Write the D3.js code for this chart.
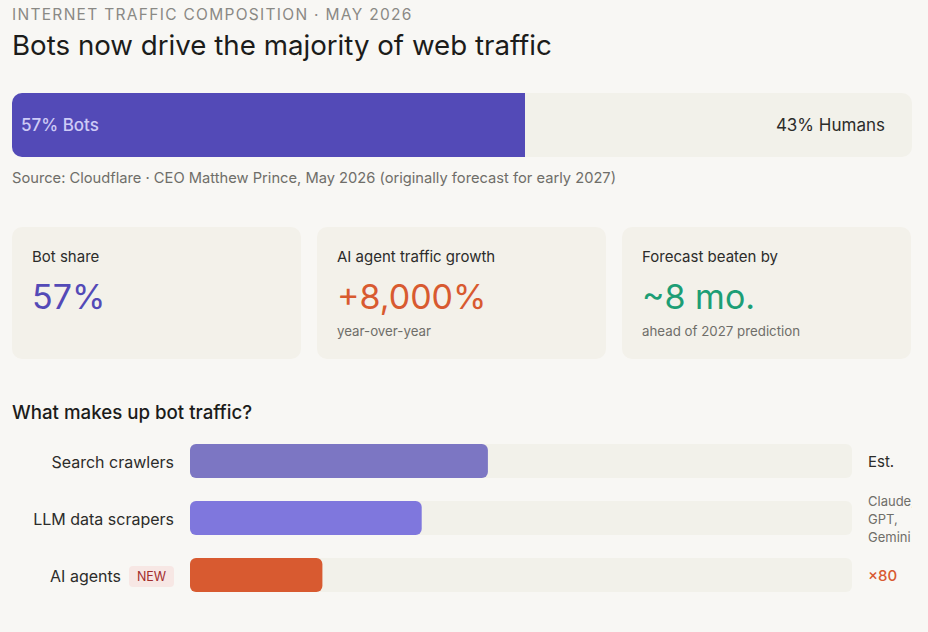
<!DOCTYPE html>
<html>
<head>
<meta charset="utf-8">
<script src="https://cdn.jsdelivr.net/npm/d3@7"></script>
<style>
  html, body { margin: 0; padding: 0; background: #f8f7f4; }
  svg { display: block; font-family: Inter, "Noto Sans", sans-serif; }
</style>
</head>
<body>
<svg id="chart"></svg>
<script>
// headline split
const shareLabels = ["Bots", "Humans"];
const shareValues = [57, 43];

// stat cards
const cardTitles = ["Bot share", "AI agent traffic growth", "Forecast beaten by"];
const cardValues = ["57%", "+8,000%", "~8 mo."];
const cardNotes = ["", "year-over-year", "ahead of 2027 prediction"];

// bot traffic breakdown (share of bot traffic, %)
const botCategories = ["Search crawlers", "LLM data scrapers", "AI agents"];
const botValues = [45, 35, 20];
const botNotes = [["Est."], ["Claude,", "GPT,", "Gemini"], ["×80"]];

const W = 928, H = 632;
const ink = "#2c2c2a", muted = "#6f6e69", track = "#f2f1ea";

const svg = d3.select("#chart").attr("width", W).attr("height", H);
svg.append("rect").attr("width", W).attr("height", H).attr("fill", "#f8f7f4");

// header
svg.append("text").attr("x", 12).attr("y", 20)
   .attr("font-size", 15.5).attr("letter-spacing", 1.3).attr("fill", "#8a8985")
   .text("INTERNET TRAFFIC COMPOSITION · MAY 2026");
svg.append("text").attr("x", 12).attr("y", 55)
   .attr("font-size", 27.7).attr("fill", "#1c1c1a")
   .text("Bots now drive the majority of web traffic");

// split bar
const x = d3.scaleLinear().domain([0, 100]).range([12, 912]);
const defs = svg.append("defs");
defs.append("clipPath").attr("id", "splitClip")
    .append("rect").attr("x", 12).attr("y", 93).attr("width", 900).attr("height", 64).attr("rx", 10);
const split = svg.append("g").attr("clip-path", "url(#splitClip)");
split.append("rect").attr("x", x(0)).attr("y", 93).attr("width", x(100) - x(0)).attr("height", 64).attr("fill", track);
split.append("rect").attr("x", x(0)).attr("y", 93).attr("width", x(shareValues[0]) - x(0)).attr("height", 64).attr("fill", "#534ab7");
svg.append("text").attr("x", x(0) + 9).attr("y", 131)
   .attr("font-size", 17).attr("font-weight", 500).attr("fill", "#cecbf6")
   .text(`${shareValues[0]}% ${shareLabels[0]}`);
svg.append("text").attr("x", x(100) - 27).attr("y", 131).attr("text-anchor", "end")
   .attr("font-size", 17).attr("fill", ink)
   .text(`${shareValues[1]}% ${shareLabels[1]}`);

svg.append("text").attr("x", 12).attr("y", 183)
   .attr("font-size", 14.7).attr("fill", muted)
   .text("Source: Cloudflare · CEO Matthew Prince, May 2026 (originally forecast for early 2027)");

// cards
const cardColors = ["#534ab7", "#d85a30", "#1d9e75"];
const cx = d3.scaleBand().domain(d3.range(cardTitles.length)).range([12, 911]).paddingInner(16 / 305);
const card = svg.append("g").selectAll("g")
  .data(d3.range(cardTitles.length))
  .join("g")
    .attr("transform", i => `translate(${cx(i)},227)`);
card.append("rect").attr("width", cx.bandwidth()).attr("height", 132).attr("rx", 10).attr("fill", "#f3f1ea");
card.append("text").attr("x", 20).attr("y", 35)
    .attr("font-size", 15).attr("fill", ink).text(i => cardTitles[i]);
card.append("text").attr("x", 20).attr("y", 82)
    .attr("font-size", 34).attr("fill", i => cardColors[i]).text(i => cardValues[i]);
card.append("text").attr("x", 20).attr("y", 109)
    .attr("font-size", 13.3).attr("fill", muted).text(i => cardNotes[i]);

// breakdown
svg.append("text").attr("x", 12).attr("y", 419)
   .attr("font-size", 18.7).attr("font-weight", 500).attr("fill", "#1c1c1a")
   .text("What makes up bot traffic?");

const bx = d3.scaleLinear().domain([0, 100]).range([190, 852]);
const by = d3.scaleBand().domain(botCategories).range([444, 592]).paddingInner(23 / 57);
const barColors = ["#7c76c3", "#7f77dd", "#d85a30"];

const row = svg.append("g").selectAll("g")
  .data(botCategories)
  .join("g")
    .attr("transform", d => `translate(0,${by(d)})`);
row.append("rect").attr("x", bx(0)).attr("width", bx(100) - bx(0)).attr("height", by.bandwidth())
   .attr("rx", 6).attr("fill", track);
row.append("rect").attr("x", bx(0)).attr("width", (d, i) => bx(botValues[i]) - bx(0)).attr("height", by.bandwidth())
   .attr("rx", 6).attr("fill", (d, i) => barColors[i]);
row.append("text")
   .attr("x", (d, i) => i === 2 ? 121 : 174)
   .attr("y", by.bandwidth() / 2 + 7)
   .attr("text-anchor", "end").attr("font-size", 16).attr("fill", ink)
   .text(d => d);

// NEW badge on the last row
const badge = row.filter((d, i) => i === 2);
badge.append("rect").attr("x", 129).attr("y", 8).attr("width", 45).attr("height", 21).attr("rx", 4).attr("fill", "#f7e7e4");
badge.append("text").attr("x", 151.5).attr("y", 23).attr("text-anchor", "middle")
   .attr("font-size", 12.5).attr("fill", "#a32d2d").text("NEW");

// right notes, clipped at the content edge
defs.append("clipPath").attr("id", "noteClip")
    .append("rect").attr("x", 860).attr("y", 430).attr("width", 52).attr("height", 200);
const notes = svg.append("g").attr("clip-path", "url(#noteClip)");
botNotes.forEach((lines, i) => {
  const y0 = by(botCategories[i]) + by.bandwidth() / 2;
  const t = notes.append("text").attr("x", 868)
     .attr("font-size", lines.length > 1 ? 13 : 15)
     .attr("font-weight", i === 2 ? 500 : 400)
     .attr("fill", i === 0 ? ink : i === 2 ? "#d85a30" : muted);
  const lh = 18;
  lines.forEach((l, j) => {
    t.append("tspan").attr("x", 868)
     .attr("y", y0 + 6 + (j - (lines.length - 1) / 2) * lh)
     .text(l);
  });
});
</script>
</body>
</html>
